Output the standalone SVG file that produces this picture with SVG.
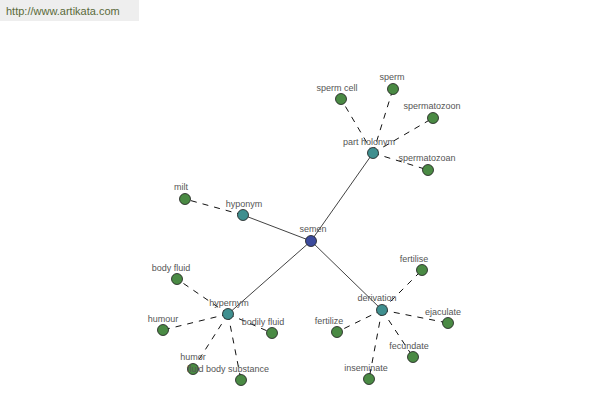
<svg xmlns="http://www.w3.org/2000/svg" width="600" height="400" viewBox="0 0 600 400">
<style>
.bg{fill:#ffffff}
.wm{fill:#eeeeee}
.wmt{font-family:"Liberation Sans",Arial,sans-serif;font-size:11px;fill:#5a6a3a}
.solid{stroke:#111111;stroke-width:0.8;fill:none}
.dash{stroke:#111111;stroke-width:1;stroke-dasharray:6,6;fill:none}
.root{fill:#3b4a9c;stroke:#1a1a1a;stroke-width:0.8}
.hub{fill:#3f8f8f;stroke:#1a1a1a;stroke-width:0.8}
.leaf{fill:#4a8a44;stroke:#1a1a1a;stroke-width:0.8}
text.l{font-family:"Liberation Sans",Arial,sans-serif;font-size:9px;fill:#555555;text-anchor:middle}
</style>
<rect class="bg" x="0" y="0" width="600" height="400"/>
<rect class="wm" x="0" y="0" width="139" height="21"/>
<text class="wmt" x="6" y="15">http://www.artikata.com</text>
<g id="connectors">
<line class="solid" x1="311" y1="241" x2="373" y2="153"/>
<line class="solid" x1="311" y1="241" x2="243" y2="215"/>
<line class="solid" x1="311" y1="241" x2="228" y2="314"/>
<line class="solid" x1="311" y1="241" x2="382" y2="310"/>
<line class="dash" x1="373" y1="153" x2="341" y2="99"/>
<line class="dash" x1="373" y1="153" x2="393" y2="89"/>
<line class="dash" x1="373" y1="153" x2="433" y2="118"/>
<line class="dash" x1="373" y1="153" x2="428" y2="170"/>
<line class="dash" x1="243" y1="215" x2="185" y2="199"/>
<line class="dash" x1="228" y1="314" x2="177" y2="279"/>
<line class="dash" x1="228" y1="314" x2="163" y2="330"/>
<line class="dash" x1="228" y1="314" x2="193" y2="369"/>
<line class="dash" x1="228" y1="314" x2="241" y2="380"/>
<line class="dash" x1="228" y1="314" x2="272" y2="333"/>
<line class="dash" x1="382" y1="310" x2="422" y2="270"/>
<line class="dash" x1="382" y1="310" x2="448" y2="323"/>
<line class="dash" x1="382" y1="310" x2="413" y2="357"/>
<line class="dash" x1="382" y1="310" x2="369" y2="379"/>
<line class="dash" x1="382" y1="310" x2="337" y2="332"/>
</g>
<g id="n-semen"><circle class="root" cx="311" cy="241" r="5.5"/><text class="l" x="313" y="232">semen</text></g>
<g id="n-part-holonym"><circle class="hub" cx="373" cy="153" r="5.5"/><text class="l" x="369" y="145">part holonym</text></g>
<g id="n-sperm-cell"><circle class="leaf" cx="341" cy="99" r="5.5"/><text class="l" x="337" y="91">sperm cell</text></g>
<g id="n-sperm"><circle class="leaf" cx="393" cy="89" r="5.5"/><text class="l" x="392" y="80">sperm</text></g>
<g id="n-spermatozoon"><circle class="leaf" cx="433" cy="118" r="5.5"/><text class="l" x="432" y="109">spermatozoon</text></g>
<g id="n-spermatozoan"><circle class="leaf" cx="428" cy="170" r="5.5"/><text class="l" x="427" y="161">spermatozoan</text></g>
<g id="n-hyponym"><circle class="hub" cx="243" cy="215" r="5.5"/><text class="l" x="244" y="207">hyponym</text></g>
<g id="n-milt"><circle class="leaf" cx="185" cy="199" r="5.5"/><text class="l" x="181" y="190">milt</text></g>
<g id="n-hypernym"><circle class="hub" cx="228" cy="314" r="5.5"/><text class="l" x="229" y="306">hypernym</text></g>
<g id="n-body-fluid"><circle class="leaf" cx="177" cy="279" r="5.5"/><text class="l" x="171" y="271">body fluid</text></g>
<g id="n-humour"><circle class="leaf" cx="163" cy="330" r="5.5"/><text class="l" x="163" y="322">humour</text></g>
<g id="n-humor"><circle class="leaf" cx="193" cy="369" r="5.5"/><text class="l" x="193" y="360">humor</text></g>
<g id="n-fluid-body-substance"><circle class="leaf" cx="241" cy="380" r="5.5"/><text class="l" x="228" y="372">fluid body substance</text></g>
<g id="n-bodily-fluid"><circle class="leaf" cx="272" cy="333" r="5.5"/><text class="l" x="263" y="325">bodily fluid</text></g>
<g id="n-derivation"><circle class="hub" cx="382" cy="310" r="5.5"/><text class="l" x="377" y="301">derivation</text></g>
<g id="n-fertilise"><circle class="leaf" cx="422" cy="270" r="5.5"/><text class="l" x="414" y="262">fertilise</text></g>
<g id="n-ejaculate"><circle class="leaf" cx="448" cy="323" r="5.5"/><text class="l" x="443" y="315">ejaculate</text></g>
<g id="n-fecundate"><circle class="leaf" cx="413" cy="357" r="5.5"/><text class="l" x="409" y="349">fecundate</text></g>
<g id="n-inseminate"><circle class="leaf" cx="369" cy="379" r="5.5"/><text class="l" x="366" y="371">inseminate</text></g>
<g id="n-fertilize"><circle class="leaf" cx="337" cy="332" r="5.5"/><text class="l" x="329" y="324">fertilize</text></g>
</svg>
